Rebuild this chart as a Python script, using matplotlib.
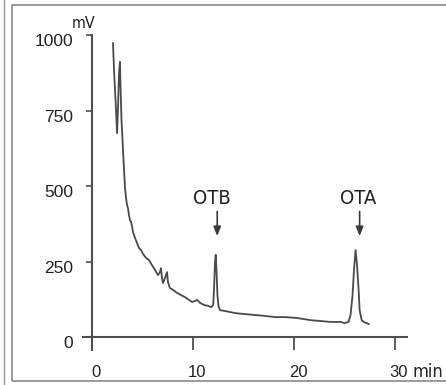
import matplotlib
matplotlib.use("Agg")
import matplotlib.pyplot as plt
import matplotlib.transforms as mtransforms
from matplotlib import font_manager
from matplotlib.patches import Rectangle
from matplotlib.lines import Line2D

# chromatogram trace (time in min, signal in mV)
time_min = [2.08, 2.18, 2.38, 2.48, 2.57, 2.67, 2.77, 2.82, 2.92, 3.02, 3.12,
            3.27, 3.37, 3.47, 3.56, 3.66, 3.76, 3.86, 3.96, 4.06, 4.26, 4.46,
            4.65, 4.85, 5.05, 5.35, 5.64, 5.94, 6.24, 6.53, 6.73, 6.83, 6.93,
            7.03, 7.23, 7.43, 7.52, 7.72, 8.02, 8.42, 8.81, 9.21, 9.60, 9.90,
            10.2, 10.4, 10.7, 11.1, 11.5, 11.8, 12.0, 12.08, 12.18, 12.25,
            12.32, 12.42, 12.52, 12.67, 13.2, 14.2, 15.1, 16.1, 17.1, 18.1,
            19.1, 20.3, 21.6, 22.6, 23.6, 24.6, 25.0, 25.4, 25.6, 25.8, 25.94,
            26.1, 26.24, 26.4, 26.5, 26.7, 26.9, 27.2, 27.4]
signal_mv = [973, 884, 752, 675, 752, 868, 911, 834, 719, 652, 586,
             493, 460, 437, 427, 404, 387, 381, 368, 348, 328, 311,
             295, 288, 275, 262, 255, 238, 222, 205, 215, 228, 195,
             179, 195, 215, 182, 162, 156, 146, 139, 132, 123, 116,
             119, 123, 113, 106, 103, 99, 106, 156, 248, 272,
             228, 139, 103, 89, 86, 79, 76, 73, 70, 66,
             66, 63, 56, 53, 50, 50, 46, 50, 73, 139, 222,
             288, 238, 156, 89, 56, 50, 46, 43]

peak_names = ["OTB", "OTA"]
peak_arrow_x = [12.4, 26.5]
peak_text_x = [11.9, 26.4]

x_ticks = [0, 10, 20, 30]
y_ticks = [0, 250, 500, 750, 1000]

# look for a narrow/condensed face for the labels
narrow_prop = None
for f in font_manager.fontManager.ttflist:
    fname = (f.fname or "").lower()
    if ("narrow" in fname or "condensed" in fname) and "bold" not in fname \
            and "oblique" not in fname and "italic" not in fname:
        narrow_prop = font_manager.FontProperties(fname=f.fname)
        break
if narrow_prop is None:
    narrow_prop = font_manager.FontProperties(family=["Liberation Sans", "DejaVu Sans"])

regular = ["Liberation Sans", "DejaVu Sans"]
ink = "#3a3a3a"

W, H = 446, 385
fig = plt.figure(figsize=(W / 100, H / 100), dpi=100)
fig.patch.set_facecolor("white")

# scanned page frame
fig.patches.append(Rectangle((12 / W, 1 - 381 / H), 1.2, (381 - 5) / H,
                             transform=fig.transFigure, fill=False,
                             edgecolor="#8a8a8a", lw=1.2))
fig.lines.append(Line2D([3.5 / W, 3.5 / W], [0, 1], transform=fig.transFigure,
                        color="#9a9a9a", lw=1.0))

ax = fig.add_axes([83 / W, 1 - 350 / H, 324 / W, 315 / H])
ax.set_facecolor("none")
ax.plot(time_min, signal_mv, color="#4a4a4a", lw=1.3)

ax.set_xlim(-0.891, 31.19)
ax.set_ylim(-43, 1000)
for s in ["top", "right"]:
    ax.spines[s].set_visible(False)
ax.spines["left"].set_position(("data", 0))
ax.spines["bottom"].set_position(("data", 0))
for s in ["left", "bottom"]:
    ax.spines[s].set_color("#505050")
    ax.spines[s].set_linewidth(1.5)

ax.set_xticks(x_ticks)
ax.set_yticks(y_ticks)
ax.tick_params(axis="x", direction="out", length=9, width=1.3, color="#505050",
               pad=11, labelsize=12, labelcolor="#222222")
ax.tick_params(axis="y", direction="out", length=4.5, width=1.2, color="#505050",
               pad=9, labelsize=12.5, labelcolor="#222222")
for lbl in ax.get_xticklabels():
    lbl.set_family(regular)
    lbl.set_transform(lbl.get_transform() +
                      mtransforms.ScaledTranslation(4 / 100, 0, fig.dpi_scale_trans))
for lbl in ax.get_yticklabels():
    lbl.set_family(regular)
    lbl.set_transform(lbl.get_transform() +
                      mtransforms.ScaledTranslation(0, -5 / 100, fig.dpi_scale_trans))

for name, xa, xt in zip(peak_names, peak_arrow_x, peak_text_x):
    ax.annotate("", xy=(xa, 325), xytext=(xa, 425),
                arrowprops=dict(arrowstyle="-|>,head_length=0.55,head_width=0.22",
                                color=ink, lw=1.2))
    ax.text(xt, 457, name, ha="center", va="center", fontsize=14.5,
            fontproperties=narrow_prop, color="#222222")

fig.text(72 / W, 1 - 23 / H, "mV", ha="left", va="center", fontsize=11.5,
         fontproperties=narrow_prop, color="#222222")
fig.text(412 / W, 1 - 372 / H, "min", ha="left", va="center", fontsize=13,
         fontproperties=narrow_prop, color="#222222")

fig.savefig("out.png", dpi=100)
